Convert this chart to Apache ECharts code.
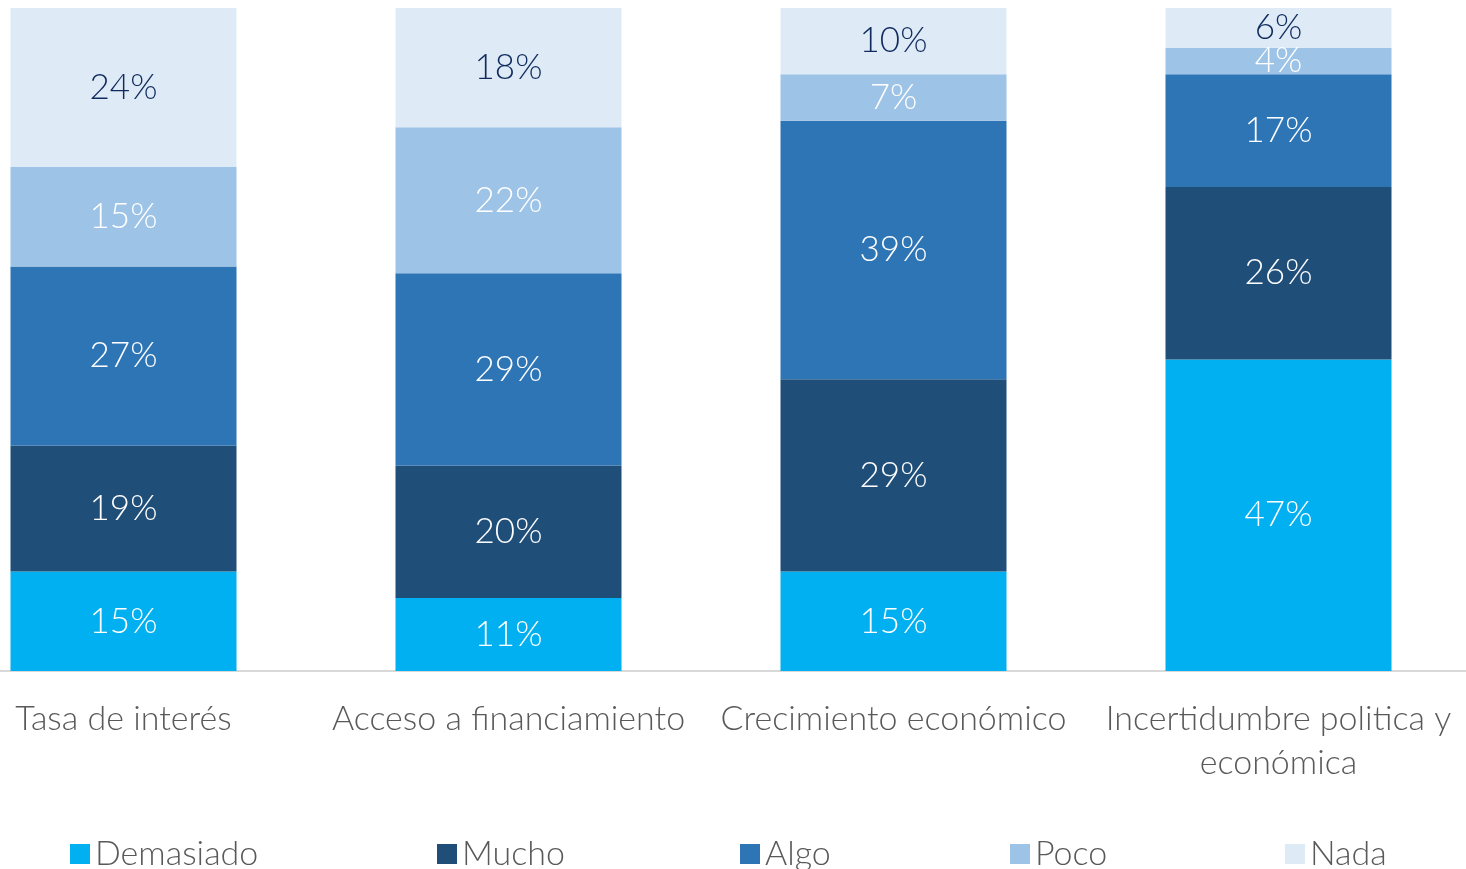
<!DOCTYPE html>
<html>
<head>
<meta charset="utf-8">
<script src="https://cdn.jsdelivr.net/npm/echarts@6/dist/echarts.min.js"></script>
<style>
  html, body { margin: 0; padding: 0; background: #fff; }
  #chart { width: 1466px; height: 869px; }
</style>
</head>
<body>
<div id="chart"></div>
<script>
  // categorías y valores (%)
  var categories = ['Tasa de interés', 'Acceso a financiamiento', 'Crecimiento económico', 'Incertidumbre politica y\neconómica'];
  var demasiado = [15, 11, 15, 47];
  var mucho = [19, 20, 29, 26];
  var algo = [27, 29, 39, 17];
  var poco = [15, 22, 7, 4];
  var nada = [24, 18, 10, 6];

  var seriesNames = ['Demasiado', 'Mucho', 'Algo', 'Poco', 'Nada'];
  var seriesData = [demasiado, mucho, algo, poco, nada];
  var colors = ['#00b0f0', '#1f4e79', '#2e75b6', '#9dc3e6', '#deebf7'];
  var labelColors = ['#ffffff', '#ffffff', '#ffffff', '#ffffff', '#0f2a5c'];
  var legendLeft = [65, 432, 735, 1005, 1280];

  var font = 'Lato';
  var chart = echarts.init(document.getElementById('chart'));

  var series = seriesNames.map(function (name, i) {
    return {
      name: name,
      type: 'bar',
      stack: 'total',
      barWidth: 226,
      data: seriesData[i],
      itemStyle: { color: colors[i] },
      label: {
        show: true,
        position: 'inside',
        formatter: '{c}%',
        color: labelColors[i],
        fontFamily: font,
        fontWeight: 300,
        fontSize: 35
      }
    }
  })

  chart.setOption({
    animation: false,
    color: colors,
    // el gráfico original está recortado por los lados
    grid: { left: -69, right: -5, top: 8, bottom: 198, outerBoundsMode: 'none', containLabel: false },
    legend: seriesNames.map(function (name, i) {
      return {
        data: [name],
        left: legendLeft[i],
        top: 832,
        itemWidth: 20,
        itemHeight: 20,
        icon: 'rect',
        itemGap: 8,
        textStyle: { color: '#595959', fontFamily: font, fontWeight: 300, fontSize: 34 }
      }
    }),
    xAxis: {
      type: 'category',
      data: categories,
      axisLine: { lineStyle: { color: '#d9d9d9', width: 2 } },
      axisTick: { show: false },
      axisLabel: {
        interval: 0,
        margin: 26,
        color: '#595959',
        fontFamily: font,
        fontWeight: 300,
        fontSize: 34,
        lineHeight: 44
      }
    },
    yAxis: {
      type: 'value',
      min: 0,
      max: 100,
      show: false,
      splitLine: { show: false }
    },
    series: series
  });
</script>
</body>
</html>
